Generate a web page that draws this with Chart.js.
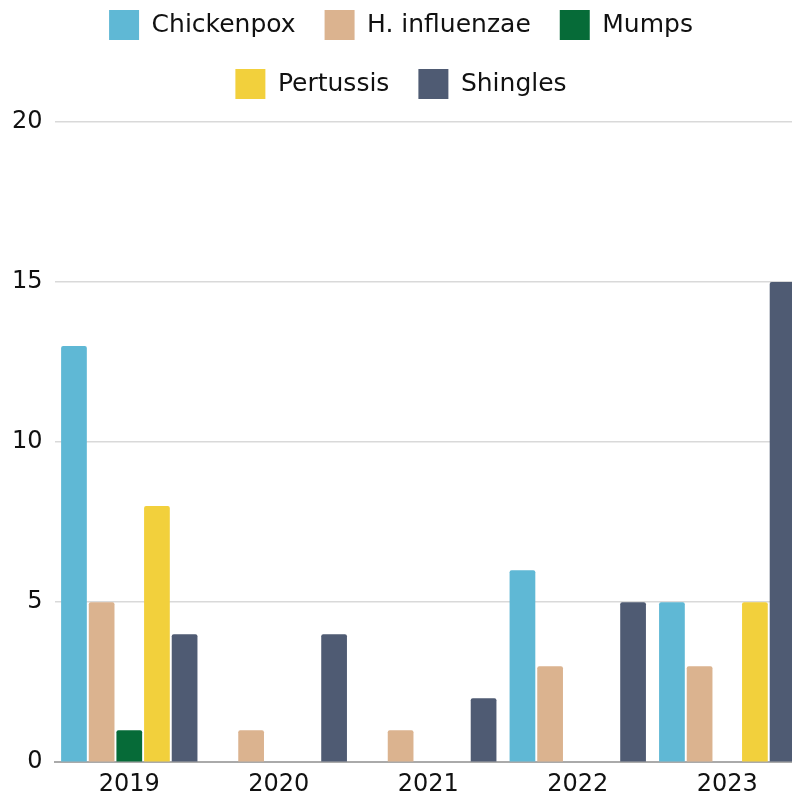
<!DOCTYPE html>
<html>
<head>
<meta charset="utf-8">
<script src="https://cdn.jsdelivr.net/npm/chart.js@4.4.0/dist/chart.umd.min.js"></script>
<style>
  html, body { margin: 0; padding: 0; background: #fff; overflow: hidden; }
  #wrap { width: 802px; height: 797px; position: relative; }
</style>
</head>
<body>
<div id="wrap"><canvas id="diseaseChart"></canvas></div>
<script>
const years = ['2019', '2020', '2021', '2022', '2023'];
const chickenpox = [13, 0, 0, 6, 5];
const hInfluenzae = [5, 1, 1, 3, 3];
const mumps = [1, 0, 0, 0, 0];
const pertussis = [8, 0, 0, 0, 5];
const shingles = [4, 4, 2, 5, 15];

const ctx = document.getElementById('diseaseChart').getContext('2d');

function series(label, data, color) {
    return {
        label: label,
        data: data,
        backgroundColor: color,
        borderRadius: 2,
        categoryPercentage: 0.925,
        barPercentage: 0.93
    };
}

// push the plot down a bit under the legend
const legendGap = {
    id: 'legendGap',
    beforeInit(chart) {
        const fit = chart.legend.fit;
        chart.legend.fit = function () {
            fit.bind(chart.legend)();
            this.height += 13;
        };
    }
};

new Chart(ctx, {
    type: 'bar',
    data: {
        labels: years,
        datasets: [
            series('Chickenpox', chickenpox, '#5fb8d5'),
            series('H. influenzae', hInfluenzae, '#dbb38f'),
            series('Mumps', mumps, '#066b38'),
            series('Pertussis', pertussis, '#f2d03c'),
            series('Shingles', shingles, '#4f5b73')
        ]
    },
    plugins: [legendGap],
    options: {
        responsive: true,
        maintainAspectRatio: false,
        animation: false,
        layout: { padding: { top: -19, left: 0, right: 0, bottom: -10 } },
        plugins: {
            legend: {
                position: 'top',
                labels: {
                    boxWidth: 30,
                    boxHeight: 30,
                    padding: 29,
                    color: '#111',
                    font: { family: 'DejaVu Sans', size: 25 }
                }
            },
            tooltip: { enabled: false }
        },
        scales: {
            x: {
                grid: { display: false, drawTicks: false },
                border: { display: true, color: '#aaa', width: 2 },
                ticks: {
                    color: '#111',
                    padding: 8,
                    font: { family: 'DejaVu Sans', size: 24 }
                }
            },
            y: {
                min: 0,
                max: 20,
                ticks: {
                    stepSize: 5,
                    color: '#111',
                    padding: 12,
                    font: { family: 'DejaVu Sans', size: 24 }
                },
                grid: { color: '#d9d9d9', lineWidth: 1.5, drawTicks: false },
                border: { display: false }
            }
        }
    }
});
</script>
</body>
</html>
